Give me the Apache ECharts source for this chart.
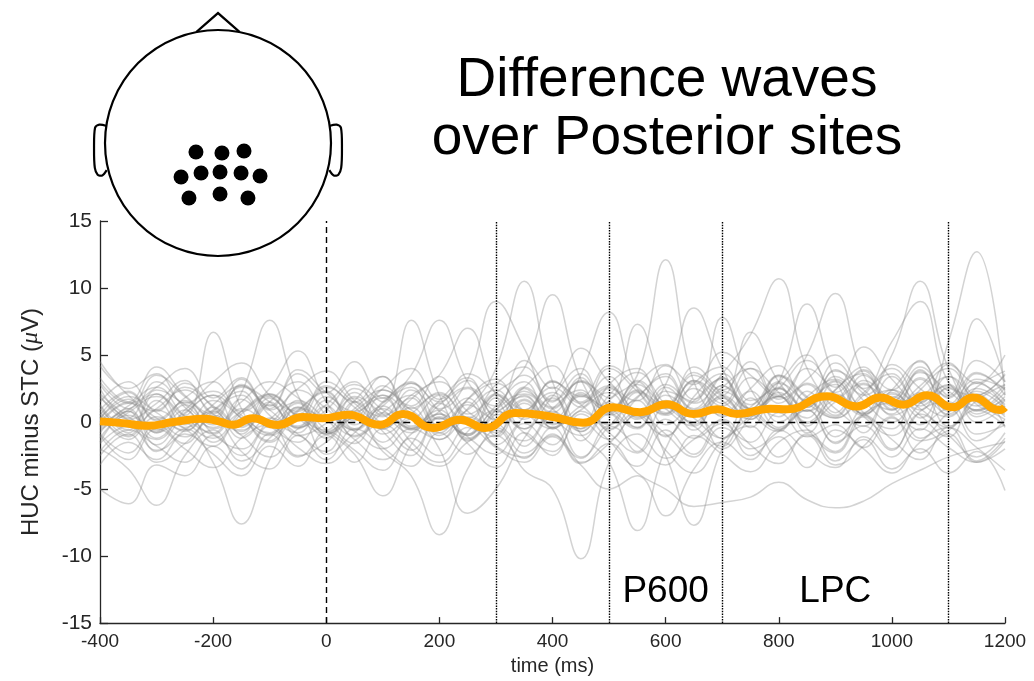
<!DOCTYPE html>
<html><head><meta charset="utf-8">
<script src="https://cdn.jsdelivr.net/npm/echarts@6/dist/echarts.min.js"></script>
<style>html,body{margin:0;padding:0;background:#fff}#c{width:1034px;height:681px}</style>
</head><body><div id="c"></div>
<script>
// time axis of the single-subject difference waves (ms)
const times = [-400,-350,-300,-250,-200,-150,-100,-50,0,50,100,150,200,250,300,350,400,450,500,550,600,650,700,750,800,850,900,950,1000,1050,1100,1150,1200];

// single-subject difference waves (µV)
const s01 = [1.2,-0.8,2.1,0.5,6.7,1.0,-1.5,0.8,2.2,-0.5,1.4, 3.0,0.2,1.8,-1.0,2.5,0.7,3.1,1.2,-0.4,2.6,1.0, 3.3,0.5,1.9,-0.8,2.4,3.6,0.9,2.2,-0.3,1.6,2.8];
const s02 = [-1.5,0.8,-2.2,-0.5,-3.0,-7.6,-2.8,0.5,-1.2,1.5,-0.7, -2.5,0.3,-1.0,1.8,-0.5,2.0,-1.4,0.6,-2.2,1.1,-0.3, -1.8,0.9,-0.6,1.7,-1.1,0.4,-2.0,0.8,1.5,-0.9,-0.2];
const s03 = [2.5,0.3,3.0,1.1,-0.4,2.2,7.6,2.0,-0.8,1.6,3.4, 0.2,2.0,-1.2,0.9,3.5,1.0,-0.5,2.8,4.0,1.2,3.0, 0.4,2.5,4.2,1.5,3.1,0.6,2.4,4.5,1.8,3.7,2.0];
const s04 = [-5.0,-6.1,-3.2,-4.0,-1.8,-3.5,-0.9,-2.6,-1.0,-3.0,-0.5, -2.1,0.4,-1.6,-3.4,-0.8,-2.5,0.6,-1.4,-3.3,-0.6,-2.4, 0.2,-1.7,-3.1,-0.9,-2.2,0.5,-1.3,-2.8,-0.4,-1.9,-3.6];
const s05 = [-2.0,-3.5,-6.2,-2.5,-0.6,-2.9,-1.2,0.5,-2.4,-0.8,1.0, -1.5,-3.0,-0.7,0.9,-1.8,0.4,-2.6,-0.3,1.6,-1.1,0.8, -2.0,0.3,1.9,-0.5,-2.3,0.6,1.4,-1.2,0.7,2.1,-0.4];
const s06 = [0.5,2.2,0.1,1.8,3.0,0.8,2.5,5.3,1.5,-0.6,2.0, 0.4,-1.3,1.7,3.2,0.9,2.6,1.1,4.0,2.3,0.5,2.9, 4.1,1.6,3.0,5.0,2.2,3.8,1.0,2.7,4.4,2.0,3.5];
const s07 = [-0.8,1.0,-1.7,0.6,2.0,-0.9,1.3,-0.4,0.9,2.8,1.5, 7.6,2.0,-0.9,1.2,3.0,0.1,2.2,-0.5,1.8,3.4,0.7, 1.9,-0.4,2.6,0.8,3.9,1.6,0.0,2.4,4.0,1.3,0.6];
const s08 = [3.3,1.5,4.1,2.0,0.6,3.2,1.0,3.6,2.2,4.5,1.8, 3.5,7.6,3.0,1.2,4.6,2.5,5.5,3.0,1.6,4.2,2.8, 5.2,3.5,1.9,4.0,2.6,5.6,3.2,1.4,4.3,2.9,5.0];
const s09 = [-1.0,-2.8,-0.5,-2.0,-3.4,-1.2,-0.2,-2.5,-1.5,0.3,-2.2, -4.0,-8.4,-3.5,-1.0,-2.7,-0.4,-3.0,-1.6,0.5,-2.1,-3.8, -1.4,-0.3,-2.6,-1.0,-3.2,-1.8,0.4,-2.3,-0.9,-3.0,-2.0];
const s10 = [0.8,-1.0,1.6,-0.4,0.9,2.3,-0.1,1.4,-0.9,0.6,-1.5, 0.2,-2.0,-6.8,-5.0,-1.2,0.8,-0.7,1.5,-0.4,2.0,0.3, -1.2,1.1,2.5,0.0,1.6,-0.8,2.1,0.5,-1.1,1.8,0.4];
const s11 = [1.5,3.0,0.9,2.6,1.2,-0.3,2.1,0.6,3.0,1.4,-0.2, 2.4,1.0,3.2,9.0,5.5,1.5,3.6,0.8,2.9,4.3,1.7, 3.3,0.9,2.5,4.6,2.0,0.7,3.4,1.5,2.8,0.6,1.9];
const s12 = [-0.5,0.9,2.1,-0.2,1.6,0.3,-1.4,1.1,0.4,2.2,0.0, 1.8,-0.6,1.0,4.0,10.5,3.0,-0.5,2.5,0.6,-1.0,1.9, 3.6,0.8,-0.7,2.3,0.5,3.1,1.2,-0.6,2.6,0.9,1.7];
const s13 = [2.0,0.2,1.4,3.1,0.7,2.6,1.5,-0.3,1.9,0.4,2.7, 1.2,3.4,0.6,2.2,4.0,9.5,3.2,0.8,2.8,1.3,4.1, 2.0,0.4,3.5,1.6,4.4,2.1,0.9,3.8,1.1,2.9,1.6];
const s14 = [-2.5,-0.9,-3.0,-1.6,0.2,-2.2,-3.5,-1.0,-2.8,-0.5,-1.9, -3.3,-0.8,-2.4,-0.6,-3.6,-5.0,-10.2,-3.0,-0.9,-2.7,-1.3, 0.1,-2.5,-1.1,-3.4,-0.6,-2.0,-3.8,-1.5,-0.4,-2.9,-1.2];
const s15 = [1.0,-0.6,2.4,1.3,-0.2,1.5,3.0,1.8,0.2,2.5,0.9, -0.4,1.6,3.3,0.5,2.0,-0.5,3.5,8.2,2.5,0.6,3.1, 1.4,4.0,2.2,0.3,3.0,1.1,4.3,2.5,1.0,3.6,2.4];
const s16 = [0.3,1.7,-0.8,0.9,-1.5,0.6,1.9,-0.5,1.2,-1.1,0.7, 2.0,-0.3,1.5,-1.7,0.4,2.2,-0.9,-3.0,-8.1,-2.0,0.6, -1.2,1.8,-0.4,0.9,-1.6,1.3,2.4,-0.2,1.0,-1.4,0.2];
const s17 = [-1.2,0.5,-0.6,1.3,-0.9,-2.0,0.2,1.5,-0.7,0.8,2.0, -0.5,0.6,-1.3,0.9,2.1,0.3,-1.0,1.6,3.5,12.1,3.0, 0.5,2.3,0.0,1.9,3.2,0.7,-0.5,2.0,0.6,3.0,1.1];
const s18 = [1.8,0.1,-1.3,0.9,2.3,0.5,-0.8,1.6,0.2,-1.6,0.7, -0.5,1.3,2.6,0.1,-1.4,1.0,2.4,-0.6,0.8,-2.5,-7.7, -2.0,0.5,1.9,-0.3,2.1,0.4,-1.0,1.4,2.7,0.0,1.2];
const s19 = [-0.3,1.2,2.6,0.4,-0.8,1.7,0.1,2.4,1.0,-0.6,1.5, 2.9,0.8,-0.9,2.0,0.5,3.1,1.4,2.6,0.3,2.8,8.5, 4.0,1.0,3.0,0.8,2.4,4.1,1.2,3.2,0.5,2.6,3.8];
const s20 = [0.6,-1.3,0.4,-0.7,1.1,-0.4,1.5,-1.0,-0.1,1.8,-0.9, 0.6,2.1,0.2,-1.1,1.4,-0.2,1.9,0.8,-0.5,2.3,1.5, 7.8,2.5,0.4,2.9,1.0,-0.3,2.2,0.9,3.4,1.5,0.2];
const s21 = [2.8,1.0,3.5,1.9,0.4,2.7,1.2,3.9,2.2,0.8,2.5, 4.0,1.7,3.1,0.9,2.6,4.2,1.5,3.4,0.6,2.8,1.4, 3.6,6.5,10.7,4.0,1.8,3.9,2.4,4.6,1.3,3.2,2.5];
const s22 = [-0.4,0.8,-1.2,0.3,-0.9,1.0,-0.3,-1.5,0.5,-0.7,-2.0, -0.5,-1.3,0.2,-1.8,-2.6,-0.9,-3.1,-1.6,-3.8,-5.0,-6.3, -6.0,-5.6,-4.5,-5.8,-6.4,-5.9,-4.6,-3.6,-2.6,-2.0,-1.5];
const s23 = [0.2,1.9,0.7,-0.6,1.3,2.7,0.5,-0.8,1.6,0.1,2.4, 0.9,-0.4,1.7,2.9,0.8,-0.5,2.1,1.0,3.0,0.6,2.5, 1.2,3.3,2.0,5.0,9.6,3.5,1.5,3.7,2.3,0.9,2.6];
const s24 = [-1.6,-0.3,-2.1,-0.6,0.8,-1.2,0.3,-0.9,-2.2,0.6,-0.5, 1.1,-1.0,0.4,-0.8,1.6,-0.4,0.9,2.2,0.2,1.3,-0.6, 2.0,0.7,3.0,8.8,3.2,0.5,2.4,1.0,-0.4,1.7,0.8];
const s25 = [0.9,2.3,0.2,1.5,-0.5,0.8,2.0,0.4,-0.6,1.9,0.6, -0.8,1.4,0.0,2.1,0.9,3.0,1.3,-0.2,2.2,0.7,3.1, 1.6,0.2,2.5,1.1,3.4,2.0,5.0,10.5,4.0,1.2,2.8];
const s26 = [3.0,1.4,2.6,4.0,1.8,3.3,0.9,2.5,3.8,1.6,0.4, 2.9,1.5,3.6,2.2,0.6,3.0,1.9,4.2,2.6,1.0,3.7, 2.4,4.5,1.7,3.2,5.0,2.5,6.0,9.0,3.0,2.0,3.6];
const s27 = [-0.2,1.4,0.3,-1.1,0.8,2.0,-0.4,1.1,-0.9,0.5,1.8, -0.3,0.9,-1.4,0.6,1.9,-0.1,1.2,2.7,0.4,1.6,-0.2, 2.3,0.9,-0.5,1.4,2.8,0.6,1.9,0.3,6.0,12.7,2.0];
const s28 = [1.3,-0.4,1.0,2.4,0.6,-0.7,1.8,0.2,2.6,1.1,-0.5, 1.7,3.0,0.8,-0.3,2.3,1.0,3.3,0.5,1.9,3.6,0.9, 2.6,4.0,1.4,2.8,0.7,3.5,1.8,4.1,2.0,7.7,3.0];
const s29 = [-3.2,-1.5,-2.8,-0.9,-2.4,-4.0,-1.8,-3.3,-0.7,-2.1,-3.6, -1.2,-2.5,-0.4,-1.9,-3.0,-1.1,-2.7,-0.3,-1.8,-3.2,-1.0, -2.4,-3.7,-1.5,-0.6,-2.9,-1.3,-3.5,-2.0,-3.8,-2.2,-5.1];
const s30 = [0.0,1.5,-0.8,0.7,2.0,0.3,-1.0,0.9,2.3,-0.2,1.2, -0.6,0.8,2.5,0.1,1.7,-0.4,2.0,0.7,3.1,1.0,-0.3, 1.8,0.2,2.9,1.4,0.3,2.2,3.6,1.2,2.5,0.4,1.6];
const s31 = [-0.9,-2.3,-0.2,-1.6,0.5,-1.0,-2.6,-0.5,0.4,-1.3,-2.8, -0.9,0.6,-1.1,-2.4,-0.1,-1.7,0.8,-0.8,-2.3,0.2,-1.2, -0.1,-2.0,-0.7,0.9,-1.5,-0.3,-2.1,0.6,-1.0,-2.6,-0.8];
const s32 = [2.1,0.4,-0.7,1.6,0.2,2.8,0.9,-0.4,1.3,3.0,0.5, 2.0,3.5,7.0,2.0,-0.5,1.9,4.0,0.9,2.4,-0.2,1.6, 3.2,0.7,2.2,-0.1,1.5,2.9,0.5,1.8,3.4,0.8,2.2];
const s33 = [4.2,2.5,3.6,1.4,3.0,4.4,2.0,0.8,2.7,1.5,3.4, 1.0,2.2,0.3,2.8,4.1,1.6,3.0,0.6,2.3,1.2,3.5, 2.0,6.7,3.0,1.1,3.8,2.4,0.6,3.3,1.9,4.6,3.0];
const s34 = [-2.2,-0.6,-1.8,-3.0,-1.0,-2.5,-0.3,-1.9,-3.1,-1.4,-0.2, -2.0,-3.3,-1.5,-0.4,-2.3,-1.0,-3.2,-5.0,-4.0,-7.0,-3.5, -1.5,-2.8,-0.6,-2.2,-3.4,-1.1,-2.6,-0.5,-1.9,-3.0,-1.4];
const s35 = [0.4,-1.1,0.9,-0.5,-1.8,0.2,-0.9,1.0,-0.6,-2.4,-5.5, -1.7,0.3,-1.0,0.8,-0.8,-2.2,0.1,-1.3,0.6,-0.9,-2.6, -0.4,-1.5,0.7,-1.1,-0.2,-1.9,0.3,-1.4,-0.6,0.9,-0.3];
const s36 = [4.5,2.0,0.8,2.9,1.1,-0.6,1.5,3.0,0.5,-1.0,1.2, 2.6,-0.3,0.9,2.4,0.2,1.8,-0.7,2.0,3.7,1.3,0.0, 2.7,1.0,3.4,1.8,0.3,2.0,4.0,1.5,0.4,2.3,1.0];
const s37 = [-0.6,0.7,1.9,0.1,-1.2,0.8,2.1,0.3,-0.9,1.0,2.4, 0.6,-0.8,1.3,0.2,2.6,1.1,3.0,1.8,7.3,2.4,0.5, 2.7,1.3,3.5,1.9,0.4,2.8,1.6,3.9,0.8,2.5,1.3];
const subjects = [s01,s02,s03,s04,s05,s06,s07,s08,s09,s10,s11,s12,s13,s14,s15,s16,s17,s18,s19,s20,
                  s21,s22,s23,s24,s25,s26,s27,s28,s29,s30,s31,s32,s33,s34,s35,s36,s37];

// grand-average difference wave (orange)
const meanTimes  = [-400,-360,-317,-270,-218,-190,-165,-130,-87,-41,-6,38,95,136,189,236,281,334,396,454,507,555,602,649,691,726,785,815,885,938,979,1020,1062,1108,1143,1191,1200];
const meanValues = [0.05,-0.08,-0.27,0.0,0.25,0.05,-0.2,0.28,-0.22,0.38,0.28,0.55,-0.2,0.6,-0.45,0.17,-0.45,0.67,0.42,-0.05,1.1,0.74,1.33,0.6,0.95,0.6,1.0,0.95,1.92,1.16,1.83,1.3,2.0,1.1,1.83,0.9,1.1];

// axis ticks
const xTicks = [-400,-200,0,200,400,600,800,1000,1200];
const yTicks = [-15,-10,-5,0,5,10,15];

// analysis windows and annotations
const dashedMarkers = [0];
const windowBounds = [300,500,700,1100];
const windowLabels = ['P600','LPC'];
const windowLabelTimes = [600,900];
const windowLabelLevel = -12.7;

// posterior electrode sites on the head map (unit-circle coordinates)
const electrodeX = [-0.195,0.035,0.230,-0.327,-0.150,0.018,0.204,0.372,-0.257,0.018,0.265];
const electrodeY = [-0.080,-0.088,-0.071,-0.301,-0.265,-0.257,-0.265,-0.292,-0.487,-0.451,-0.487];

const chart = echarts.init(document.getElementById('c'), null, {renderer:'canvas'});
const axisColor = '#262626';
const series = [];

subjects.forEach((s, k) => {
  series.push({
    type:'line', xAxisIndex:0, yAxisIndex:0, silent:true, symbol:'none', smooth:0.45,
    data: times.map((t,i)=>[t, s[i]]),
    lineStyle:{color:'#8c8c8c', width:1.5, opacity:0.38}, z:2, animation:false
  });
});

series.push({
  type:'line', xAxisIndex:0, yAxisIndex:0, data:[], silent:true, z:4, animation:false,
  markLine:{
    symbol:'none', silent:true, animation:false, label:{show:false},
    data: [
      ...dashedMarkers.map(v=>({xAxis:v, lineStyle:{color:'#000', width:1.4, type:[6,4]}})),
      ...windowBounds.map(v=>({xAxis:v, lineStyle:{color:'#000', width:1.4, type:[1.5,1.2]}})),
      [{coord:[0,0], lineStyle:{color:'#000', width:1.4, type:[7,4]}},{coord:[1200,0]}]
    ]
  }
});

series.push({
  type:'line', xAxisIndex:0, yAxisIndex:0, silent:true, symbol:'none', smooth:0.5,
  data: meanTimes.map((t,i)=>[t, meanValues[i]]),
  lineStyle:{color:'#FFA500', width:8}, z:6, animation:false
});

series.push({
  type:'scatter', xAxisIndex:0, yAxisIndex:0, silent:true, symbolSize:0, z:7, animation:false,
  itemStyle:{opacity:1},
  data: windowLabels.map((n,i)=>({name:n, value:[windowLabelTimes[i], windowLabelLevel]})),
  label:{show:true, position:'inside', formatter:'{b}', color:'#000', opacity:1, fontSize:37, fontFamily:'Liberation Sans, Arial, sans-serif'}
});

// head outline
series.push({
  type:'custom', xAxisIndex:1, yAxisIndex:1, silent:true, z:8, animation:false,
  data:[[0,0]],
  renderItem: function(params, api){
    const c = api.coord([0,0]);
    const r = api.size([1,1])[0];
    const P = (x,y)=>api.coord([x,y]);
    const st = {fill:null, stroke:'#000', lineWidth:2.2};
    const earL = [[-0.985,0.150],[-1.05,0.162],[-1.088,0.135],[-1.097,-0.05],[-1.09,-0.22],[-1.065,-0.28],[-1.025,-0.288],[-0.985,-0.24]];
    const earR = earL.map(p=>[-p[0],p[1]]);
    return {type:'group', children:[
      {type:'circle', shape:{cx:c[0], cy:c[1], r:r}, style:st},
      {type:'polyline', shape:{points:[P(-0.19,0.984),P(0,1.15),P(0.19,0.984)]}, style:st},
      {type:'polyline', shape:{points:earL.map(p=>P(p[0],p[1])), smooth:0.3}, style:st},
      {type:'polyline', shape:{points:earR.map(p=>P(p[0],p[1])), smooth:0.3}, style:st}
    ]};
  }
});

series.push({
  type:'scatter', xAxisIndex:1, yAxisIndex:1, silent:true, z:9, animation:false,
  symbol:'circle', symbolSize:15, itemStyle:{color:'#000', opacity:1},
  data: electrodeX.map((x,i)=>[x, electrodeY[i]])
});

const option = {
  backgroundColor:'#fff',
  animation:false,
  grid:[
    {left:100, right:29, top:221, bottom:54},
    {left:105, top:30, width:226, height:226}
  ],
  xAxis:[
    {type:'value', gridIndex:0, min:xTicks[0], max:xTicks[xTicks.length-1], interval:200,
     axisLine:{show:true, onZero:false, lineStyle:{color:axisColor, width:1.3}},
     axisTick:{show:true, inside:true, length:6, lineStyle:{color:axisColor, width:1.3}},
     axisLabel:{color:axisColor, fontSize:19, fontFamily:'Liberation Sans Narrow, Arial Narrow, sans-serif', margin:9,
                formatter: v => String(v)},
     splitLine:{show:false},
     name:'time (ms)', nameLocation:'middle', nameGap:29,
     nameTextStyle:{color:axisColor, fontSize:20, fontFamily:'Liberation Sans Narrow, Arial Narrow, sans-serif'}},
    {type:'value', gridIndex:1, min:-1, max:1, show:false}
  ],
  yAxis:[
    {type:'value', gridIndex:0, min:yTicks[0], max:yTicks[yTicks.length-1], interval:5,
     axisLine:{show:true, onZero:false, lineStyle:{color:axisColor, width:1.3}},
     axisTick:{show:true, inside:true, length:8, lineStyle:{color:axisColor, width:1.3}},
     axisLabel:{color:axisColor, fontSize:21, fontFamily:'Liberation Sans, Arial, sans-serif', margin:8,
                formatter: v => String(v)},
     splitLine:{show:false},
     name:'HUC minus STC ({i|μ}V)', nameLocation:'middle', nameGap:57,
     nameTextStyle:{color:axisColor, fontSize:24, fontFamily:'Liberation Sans, Arial, sans-serif',
       rich:{i:{fontStyle:'italic', fontSize:24, fontFamily:'Liberation Serif, serif', color:axisColor}}}},
    {type:'value', gridIndex:1, min:-1, max:1, show:false}
  ],
  graphic:[
    {type:'text', x:667, y:110, silent:true, z:10,
     style:{text:'Difference waves\nover Posterior sites', fill:'#000', fontSize:55, lineHeight:58,
            fontFamily:'Liberation Sans, Arial, sans-serif', textAlign:'center', textVerticalAlign:'middle'}}
  ],
  series: series
};
chart.setOption(option);
</script></body></html>
